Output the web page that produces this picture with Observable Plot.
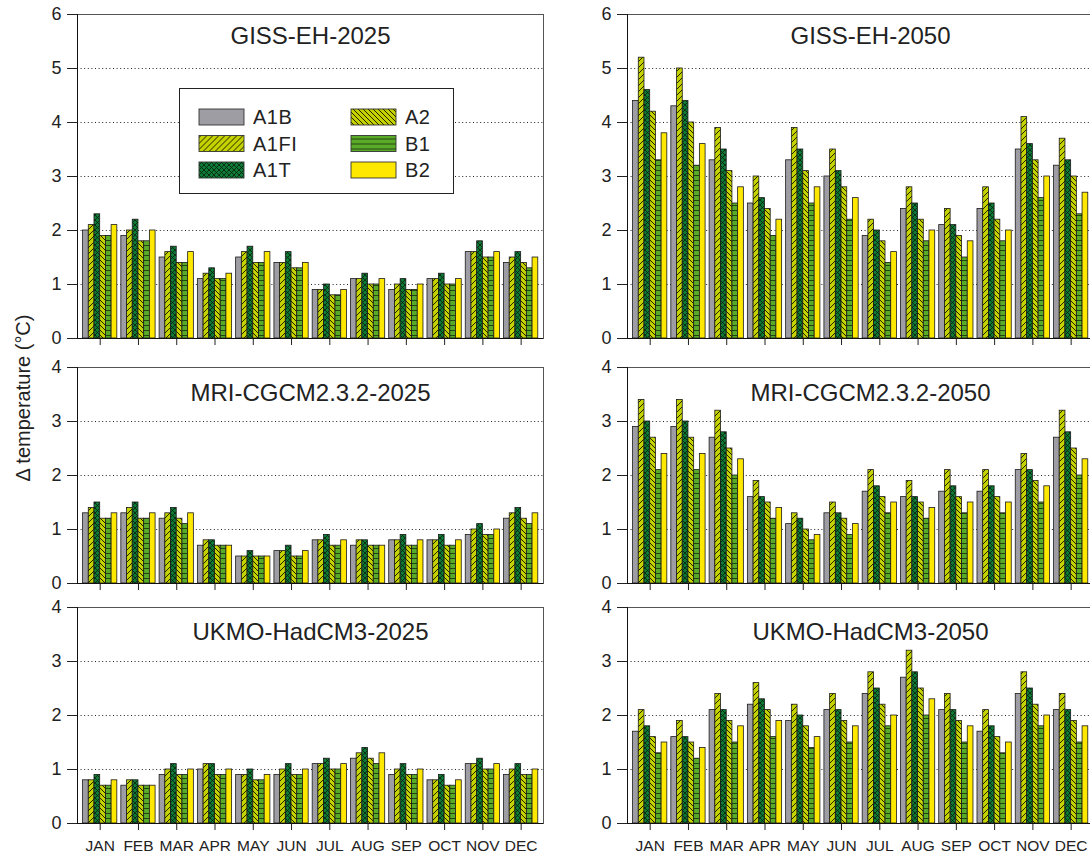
<!DOCTYPE html>
<html>
<head>
<meta charset="utf-8">
<script src="https://cdn.jsdelivr.net/npm/d3@7"></script>
<script src="https://cdn.jsdelivr.net/npm/@observablehq/plot@0.6"></script>
<style>
  html, body { margin: 0; padding: 0; overflow: hidden; background: #fff; }
  #fig { position: relative; width: 1120px; height: 855px; font-family: "Liberation Sans", Arial, Helvetica, sans-serif; color: #222; }
  #fig > svg { position: absolute; }
  .panel g[aria-label^="x-axis"] text { font-size: 15.5px !important; }
  .panel g[aria-label^="y-axis"] text { font-size: 18px !important; }
</style>
</head>
<body>
<div id="fig"></div>
<script>
// Months and emission scenarios
const months = ["JAN", "FEB", "MAR", "APR", "MAY", "JUN", "JUL", "AUG", "SEP", "OCT", "NOV", "DEC"];
const scenarios = ["A1B", "A1FI", "A1T", "A2", "B1", "B2"];

// Temperature change (°C) per scenario (rows in scenario order), JAN..DEC
const gissEH2025 = [
  [2.0, 1.9, 1.5, 1.1, 1.5, 1.4, 0.9, 1.1, 0.9, 1.1, 1.6, 1.4],
  [2.1, 2.0, 1.6, 1.2, 1.6, 1.4, 0.9, 1.1, 1.0, 1.1, 1.6, 1.5],
  [2.3, 2.2, 1.7, 1.3, 1.7, 1.6, 1.0, 1.2, 1.1, 1.2, 1.8, 1.6],
  [1.9, 1.8, 1.4, 1.1, 1.4, 1.3, 0.8, 1.0, 0.9, 1.0, 1.5, 1.4],
  [1.9, 1.8, 1.4, 1.1, 1.4, 1.3, 0.8, 1.0, 0.9, 1.0, 1.5, 1.3],
  [2.1, 2.0, 1.6, 1.2, 1.6, 1.4, 0.9, 1.1, 1.0, 1.1, 1.6, 1.5]
];
const gissEH2050 = [
  [4.4, 4.3, 3.3, 2.5, 3.3, 3.0, 1.9, 2.4, 2.1, 2.4, 3.5, 3.2],
  [5.2, 5.0, 3.9, 3.0, 3.9, 3.5, 2.2, 2.8, 2.4, 2.8, 4.1, 3.7],
  [4.6, 4.4, 3.5, 2.6, 3.5, 3.1, 2.0, 2.5, 2.1, 2.5, 3.6, 3.3],
  [4.2, 4.0, 3.1, 2.4, 3.1, 2.8, 1.8, 2.2, 1.9, 2.2, 3.3, 3.0],
  [3.3, 3.2, 2.5, 1.9, 2.5, 2.2, 1.4, 1.8, 1.5, 1.8, 2.6, 2.3],
  [3.8, 3.6, 2.8, 2.2, 2.8, 2.6, 1.6, 2.0, 1.8, 2.0, 3.0, 2.7]
];
const mri2025 = [
  [1.3, 1.3, 1.2, 0.7, 0.5, 0.6, 0.8, 0.7, 0.8, 0.8, 0.9, 1.2],
  [1.4, 1.4, 1.3, 0.8, 0.5, 0.6, 0.8, 0.8, 0.8, 0.8, 1.0, 1.3],
  [1.5, 1.5, 1.4, 0.8, 0.6, 0.7, 0.9, 0.8, 0.9, 0.9, 1.1, 1.4],
  [1.2, 1.2, 1.2, 0.7, 0.5, 0.5, 0.7, 0.7, 0.7, 0.7, 0.9, 1.2],
  [1.2, 1.2, 1.1, 0.7, 0.5, 0.5, 0.7, 0.7, 0.7, 0.7, 0.9, 1.1],
  [1.3, 1.3, 1.3, 0.7, 0.5, 0.6, 0.8, 0.7, 0.8, 0.8, 1.0, 1.3]
];
const mri2050 = [
  [2.9, 2.9, 2.7, 1.6, 1.1, 1.3, 1.7, 1.6, 1.7, 1.7, 2.1, 2.7],
  [3.4, 3.4, 3.2, 1.9, 1.3, 1.5, 2.1, 1.9, 2.1, 2.1, 2.4, 3.2],
  [3.0, 3.0, 2.8, 1.6, 1.2, 1.3, 1.8, 1.6, 1.8, 1.8, 2.1, 2.8],
  [2.7, 2.7, 2.5, 1.5, 1.0, 1.2, 1.6, 1.5, 1.6, 1.6, 1.9, 2.5],
  [2.1, 2.1, 2.0, 1.2, 0.8, 0.9, 1.3, 1.2, 1.3, 1.3, 1.5, 2.0],
  [2.4, 2.4, 2.3, 1.4, 0.9, 1.1, 1.5, 1.4, 1.5, 1.5, 1.8, 2.3]
];
const ukmo2025 = [
  [0.8, 0.7, 0.9, 1.0, 0.9, 0.9, 1.1, 1.2, 0.9, 0.8, 1.1, 0.9],
  [0.8, 0.8, 1.0, 1.1, 0.9, 1.0, 1.1, 1.3, 1.0, 0.8, 1.1, 1.0],
  [0.9, 0.8, 1.1, 1.1, 1.0, 1.1, 1.2, 1.4, 1.1, 0.9, 1.2, 1.1],
  [0.7, 0.7, 0.9, 0.9, 0.8, 0.9, 1.0, 1.2, 0.9, 0.7, 1.0, 0.9],
  [0.7, 0.7, 0.9, 0.9, 0.8, 0.9, 1.0, 1.1, 0.9, 0.7, 1.0, 0.9],
  [0.8, 0.7, 1.0, 1.0, 0.9, 1.0, 1.1, 1.3, 1.0, 0.8, 1.1, 1.0]
];
const ukmo2050 = [
  [1.7, 1.6, 2.1, 2.2, 1.9, 2.1, 2.4, 2.7, 2.1, 1.7, 2.4, 2.1],
  [2.1, 1.9, 2.4, 2.6, 2.2, 2.4, 2.8, 3.2, 2.4, 2.1, 2.8, 2.4],
  [1.8, 1.6, 2.1, 2.3, 2.0, 2.1, 2.5, 2.8, 2.1, 1.8, 2.5, 2.1],
  [1.6, 1.5, 1.9, 2.1, 1.8, 1.9, 2.2, 2.5, 1.9, 1.6, 2.2, 1.9],
  [1.3, 1.2, 1.5, 1.6, 1.4, 1.5, 1.8, 2.0, 1.5, 1.3, 1.8, 1.5],
  [1.5, 1.4, 1.8, 1.9, 1.6, 1.8, 2.0, 2.3, 1.8, 1.5, 2.0, 1.8]
];

const fig = d3.select("#fig");
const fontFamily = '"Liberation Sans", Arial, Helvetica, sans-serif';

// Fill patterns for the six scenarios
const patternDefs = [
  {base: "#9d9da3"},
  {base: "#c4d200", size: 6, path: "M-1,1 l2,-2 M0,6 l6,-6 M5,7 l2,-2", stroke: "#222200", width: 1},
  {base: "#0d7a35", size: 5, path: "M-1,1 l2,-2 M0,5 l5,-5 M4,6 l2,-2 M-1,4 l2,2 M0,0 l5,5 M4,-1 l2,2", stroke: "#0a1c0c", width: 0.8},
  {base: "#c4d200", size: 5, path: "M-1,4 l2,2 M0,0 l5,5 M4,-1 l2,2", stroke: "#222200", width: 1},
  {base: "#5aaa2a", size: 5, path: "M0,0.5 h5", stroke: "#1d3a0c", width: 0.9},
  {base: "#ffe800"}
];
const defs = fig.append("svg").attr("width", 0).attr("height", 0).style("left", 0).style("top", 0).append("defs");
patternDefs.forEach((p, i) => {
  const size = p.size || 4;
  const pat = defs.append("pattern").attr("id", `pat-${i}`).attr("patternUnits", "userSpaceOnUse")
    .attr("width", size).attr("height", size);
  pat.append("rect").attr("width", size).attr("height", size).attr("fill", p.base);
  if (p.path) pat.append("path").attr("d", p.path).attr("stroke", p.stroke).attr("stroke-width", p.width).attr("fill", "none");
});
const patternFill = s => `url(#pat-${s})`;

// Grouped-bar geometry in month units
const xDomain = [0.407, 12.584];
const groupWidth = 0.895;
const barWidth = groupWidth / scenarios.length;
const unitPx = 54;

function panel({title, values, yMax, showMonths, titleDy, titleDx}) {
  const rows = [];
  values.forEach((series, s) => series.forEach((v, m) => rows.push({s, scenario: scenarios[s], month: m + 1, value: v})));
  const left = m => m - groupWidth / 2;
  return Plot.plot({
    width: 77 + 466 + 24,
    height: 14 + yMax * unitPx + 40,
    marginLeft: 77,
    marginRight: 24,
    marginTop: 14,
    marginBottom: 40,
    x: {
      domain: xDomain,
      ticks: d3.range(1, 13),
      tickSize: 7,
      tickPadding: 9,
      tickFormat: showMonths ? i => months[i - 1] : () => "",
      label: null
    },
    y: {
      domain: [0, yMax],
      ticks: d3.range(0, yMax + 1),
      tickSize: 10,
      tickPadding: 6,
      tickFormat: d3.format("d"),
      label: null
    },
    style: {
      background: "transparent",
      overflow: "visible",
      maxWidth: "none",
      fontSize: "18px",
      fontFamily,
      color: "#222"
    },
    marks: [
      Plot.ruleY(d3.range(1, yMax), {stroke: "#222", strokeDasharray: "1 2.6", strokeWidth: 1}),
      ...scenarios.map((name, s) => Plot.rectY(rows.filter(d => d.s === s), {
        x1: d => left(d.month) + s * barWidth,
        x2: d => left(d.month) + (s + 1) * barWidth,
        y: "value",
        fill: patternFill(s),
        stroke: "#1a1a1a",
        strokeWidth: 0.8
      })),
      Plot.frame({stroke: "#555"}),
      Plot.ruleX([xDomain[0]], {stroke: "#111"}),
      Plot.ruleY([0], {stroke: "#111"}),
      Plot.text([title], {frameAnchor: "top", lineAnchor: "middle", dy: titleDy, dx: titleDx, fontSize: 24, fill: "#222"})
    ]
  });
}

const panels = [
  {title: "GISS-EH-2025", values: gissEH2025, yMax: 6, col: 0, top: 0, showMonths: false, titleDy: 22},
  {title: "GISS-EH-2050", values: gissEH2050, yMax: 6, col: 1, top: 0, showMonths: false, titleDy: 22},
  {title: "MRI-CGCM2.3.2-2025", values: mri2025, yMax: 4, col: 0, top: 352.5, showMonths: false, titleDy: 26},
  {title: "MRI-CGCM2.3.2-2050", values: mri2050, yMax: 4, col: 1, top: 352.5, showMonths: false, titleDy: 26},
  {title: "UKMO-HadCM3-2025", values: ukmo2025, yMax: 4, col: 0, top: 593, showMonths: true, titleDy: 25},
  {title: "UKMO-HadCM3-2050", values: ukmo2050, yMax: 4, col: 1, top: 593, showMonths: true, titleDy: 25}
];

panels.forEach(p => {
  const svg = panel({...p, titleDx: p.col === 1 ? 10 : 0});
  svg.classList.add("panel");
  svg.style.position = "absolute";
  svg.style.left = (p.col === 0 ? 0 : 550) + "px";
  svg.style.top = p.top + "px";
  fig.node().appendChild(svg);
});

// Scenario legend inside the first panel
const legend = fig.append("svg").attr("width", 276).attr("height", 107)
  .style("left", "178.5px").style("top", "87.5px");
legend.append("rect").attr("x", 0.5).attr("y", 0.5).attr("width", 274).attr("height", 105)
  .attr("fill", "#fff").attr("stroke", "#222").attr("stroke-width", 1);
const item = legend.selectAll("g.item").data(scenarios).join("g").attr("class", "item")
  .attr("transform", (d, i) => `translate(${Math.floor(i / 3) ? 172 : 20},${29 + (i % 3) * 26.5})`);
item.append("rect").attr("x", 0).attr("y", -8).attr("width", 45).attr("height", 16)
  .attr("fill", (d, i) => patternFill(i)).attr("stroke", "#333").attr("stroke-width", 0.9);
item.append("text").attr("x", 54).attr("dy", "0.36em")
  .attr("font-size", 20).attr("letter-spacing", "0.5px").attr("fill", "#222")
  .style("font-family", fontFamily)
  .text(d => d);

// Shared y-axis label
const ylab = fig.append("svg").attr("width", 50).attr("height", 855).style("left", 0).style("top", 0);
ylab.append("text").attr("transform", "translate(30,398) rotate(-90)").attr("text-anchor", "middle")
  .attr("font-size", 20).attr("fill", "#222")
  .style("font-family", fontFamily)
  .text("Δ temperature (°C)");
</script>
</body>
</html>
